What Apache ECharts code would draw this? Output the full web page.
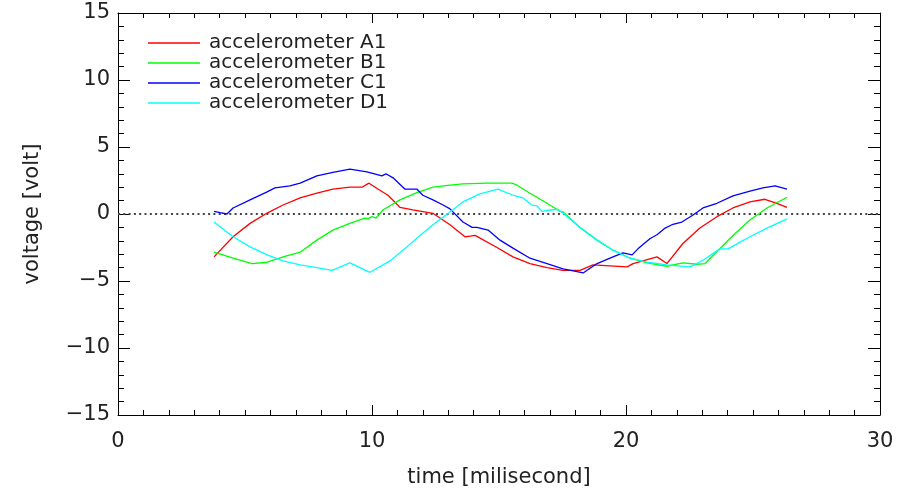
<!DOCTYPE html>
<html>
<head>
<meta charset="utf-8">
<script src="https://cdn.jsdelivr.net/npm/echarts@6/dist/echarts.min.js"></script>
<style>html,body{margin:0;padding:0;background:#fff}#c{width:898px;height:492px}</style>
</head>
<body>
<div id="c"></div>
<script>
const seriesNames = ['accelerometer A1', 'accelerometer B1', 'accelerometer C1', 'accelerometer D1'];
const xTicks = [0, 10, 20, 30];
const yTicks = [-15, -10, -5, 0, 5, 10, 15];

const timeA1 = [3.78,4.53,5.20,5.87,6.50,7.17,7.83,8.46,9.13,9.61,9.88,10.2,10.63,11.1,11.61,12.4,13.07,13.66,14.06,14.92,15.55,16.22,16.89,17.52,18.19,18.70,20.04,20.28,21.22,21.61,22.24,22.91,23.58,24.21,24.88,25.47,25.94,26.34];
const voltA1 = [-3.2,-1.7,-0.7,0.07,0.67,1.2,1.55,1.85,2.0,2.0,2.3,1.9,1.4,0.5,0.3,0.05,-0.8,-1.7,-1.6,-2.5,-3.2,-3.7,-4.0,-4.2,-4.2,-3.8,-3.95,-3.7,-3.2,-3.7,-2.2,-1.05,-0.2,0.45,0.9,1.1,0.8,0.5];

const timeB1 = [3.78,4.53,5.28,5.87,6.50,7.17,7.83,8.46,9.13,9.72,9.84,10.0,10.16,10.43,11.1,11.77,12.4,13.07,13.58,14.53,15.51,15.71,16.22,16.89,17.40,17.52,18.19,18.86,19.49,20.16,20.83,21.61,22.24,22.8,23.11,23.58,24.21,24.88,25.55,26.34];
const voltB1 = [-2.85,-3.3,-3.7,-3.6,-3.2,-2.85,-1.95,-1.2,-0.7,-0.3,-0.35,-0.2,-0.3,0.3,1.05,1.6,2.0,2.15,2.25,2.3,2.3,2.15,1.55,0.8,0.2,0.15,-1.0,-1.95,-2.7,-3.3,-3.65,-3.9,-3.65,-3.75,-3.7,-2.8,-1.6,-0.45,0.45,1.25];

const timeC1 = [3.78,4.02,4.29,4.53,5.20,5.87,6.18,6.77,7.17,7.83,8.46,9.13,9.80,10.39,10.55,10.83,11.30,11.77,12.0,12.4,12.8,13.07,13.58,13.94,14.13,14.57,15.04,15.55,16.22,16.89,17.52,18.07,18.31,18.86,19.49,19.88,20.24,20.47,20.94,21.22,21.54,21.81,22.2,22.64,23.03,23.58,24.21,24.88,25.39,25.87,26.34];
const voltC1 = [0.2,0.1,0.0,0.45,1.05,1.65,1.95,2.1,2.3,2.85,3.1,3.35,3.15,2.85,3.0,2.7,1.85,1.85,1.4,1.05,0.67,0.38,-0.6,-1.0,-1.0,-1.2,-1.95,-2.55,-3.3,-3.7,-4.1,-4.3,-4.4,-3.7,-3.2,-2.9,-3.05,-2.6,-1.85,-1.55,-1.05,-0.8,-0.6,-0.07,0.45,0.8,1.35,1.7,1.95,2.1,1.85];

const timeD1 = [3.78,4.53,5.20,5.87,6.50,7.17,7.83,8.43,9.13,9.92,10.71,11.38,11.77,12.4,13.07,13.58,14.25,14.96,15.55,15.94,16.3,16.5,16.69,17.0,17.32,17.52,18.19,18.86,19.49,20.16,20.83,21.61,22.52,23.03,23.70,24.02,24.49,24.88,25.55,26.34];
const voltD1 = [-0.6,-1.7,-2.45,-3.05,-3.5,-3.8,-4.0,-4.2,-3.65,-4.35,-3.5,-2.45,-1.8,-0.8,0.15,0.9,1.5,1.85,1.4,1.2,0.67,0.6,0.2,0.3,0.35,0.07,-1.0,-1.95,-2.7,-3.3,-3.6,-3.8,-3.95,-3.45,-2.6,-2.6,-2.1,-1.7,-1.05,-0.37];

const colors = ['#ff0000', '#00ff00', '#0000ff', '#00ffff'];
const times = [timeA1, timeB1, timeC1, timeD1];
const volts = [voltA1, voltB1, voltC1, voltD1];

const FONT = 'DejaVu Sans';
const chart = echarts.init(document.getElementById('c'));

const lineSeries = seriesNames.map((name, i) => ({
  name: name,
  type: 'line',
  data: times[i].map((t, k) => [t, volts[i][k]]),
  showSymbol: false,
  symbol: 'none',
  lineStyle: { color: colors[i], width: 1.3 },
  itemStyle: { color: colors[i] },
  z: 3
}));

const zeroLine = {
  name: 'zero',
  type: 'line',
  data: [[xTicks[0], 0], [xTicks[xTicks.length - 1], 0]],
  showSymbol: false,
  symbol: 'none',
  lineStyle: { color: '#444', width: 2, type: [2, 3.3] },
  silent: true,
  z: 2
};

function axis(extra) {
  return Object.assign({
    type: 'value',
    axisLine: { show: true, onZero: false, lineStyle: { color: '#000', width: 1 } },
    splitLine: { show: false },
    minorSplitLine: { show: false }
  }, extra);
}

const xTickStyle = {
  axisTick: { show: true, inside: true, length: 10, lineStyle: { color: '#000' } },
  minorTick: { show: true, splitNumber: 10, length: 5, lineStyle: { color: '#000' } }
};
const yTickStyle = {
  axisTick: { show: true, inside: true, length: 12, lineStyle: { color: '#000' } },
  minorTick: { show: true, splitNumber: 5, length: 6, lineStyle: { color: '#000' } }
};

chart.setOption({
  animation: false,
  backgroundColor: '#fff',
  grid: { left: 118, right: 18, top: 13, bottom: 77, containLabel: false, outerBoundsMode: 'none' },
  legend: {
    data: seriesNames,
    orient: 'vertical',
    left: 143,
    top: 28,
    icon: 'rect',
    itemWidth: 52,
    itemHeight: 1.5,
    itemGap: 0,
    textStyle: { fontFamily: FONT, fontSize: 20, color: '#222', lineHeight: 20, padding: [0, 0, 0, 4] }
  },
  xAxis: [
    axis(Object.assign({
      min: 0, max: 30, interval: 10, position: 'bottom',
      name: 'time [milisecond]',
      nameLocation: 'middle',
      nameGap: 52,
      nameTextStyle: { fontFamily: FONT, fontSize: 21, color: '#222' },
      axisLabel: { fontFamily: FONT, fontSize: 21, color: '#222', margin: 16 }
    }, xTickStyle)),
    axis(Object.assign({
      min: 0, max: 30, interval: 10, position: 'top',
      axisLabel: { show: false }
    }, xTickStyle))
  ],
  yAxis: [
    axis(Object.assign({
      min: -15, max: 15, interval: 5, position: 'left',
      name: 'voltage [volt]',
      nameLocation: 'middle',
      nameGap: 75,
      nameTextStyle: { fontFamily: FONT, fontSize: 21, color: '#222' },
      axisLabel: { fontFamily: FONT, fontSize: 21, color: '#222', margin: 8,
        formatter: v => (v < 0 ? '\u2212' + Math.abs(v) : String(v)) }
    }, yTickStyle)),
    axis(Object.assign({
      min: -15, max: 15, interval: 5, position: 'right',
      axisLabel: { show: false }
    }, yTickStyle))
  ],
  series: [zeroLine].concat(lineSeries)
});
</script>
</body>
</html>
